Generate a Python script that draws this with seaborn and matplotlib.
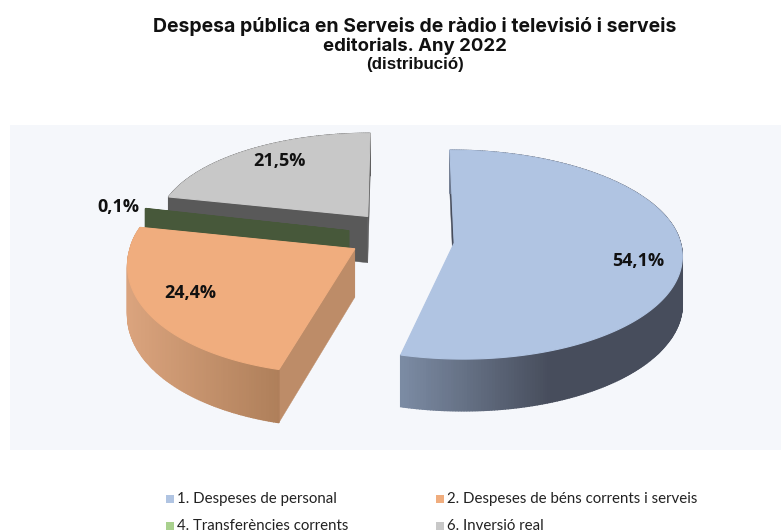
import numpy as np
import matplotlib
matplotlib.use("Agg")
import matplotlib.pyplot as plt
from matplotlib.patches import Polygon, Rectangle
import seaborn as sns

# DATA
categories = ["1. Despeses de personal", "2. Despeses de béns corrents i serveis",
              "4. Transferències corrents", "6. Inversió real"]
values = [54.1, 24.4, 0.1, 21.5]
value_labels = ["54,1%", "24,4%", "0,1%", "21,5%"]
title_lines = ["Despesa pública en Serveis de ràdio i televisió i serveis",
               "editorials. Any 2022"]
subtitle = "(distribució)"

# COLOURS
top_colors = ["#B0C4E2", "#F0AD7E", "#A9D18E", "#C8C8C8"]
wall_left = ["#7C8CA4", "#DBA47E", "#47583A", "#595959"]
wall_right = ["#474D5C", "#AD7E59", "#47583A", "#595959"]
cut_colors = ["#474D5C", "#BD8C68", "#47583A", "#595959"]

# GEOMETRY (pixels, the axes run in image coordinates)
CX, CY = 400, 235
RX, RY = 228, 105
PERSP = 0.09
DEPTH = 47
EXPLODE = 0.23
nudge = [(2, 5), (0, 1), (0, 1), (0, 0)]
scale_x = [0.99, 0.975, 0.94, 0.93]
scale_y = [1.0, 1.06, 1.0, 0.89]
back_y = [0.96, 0.9, 1.0, 1.0]    # extra squeeze for the part behind the apex
shear = [0.035, 0.08, 0.0, 0.0]   # only applied to the part in front of the apex
depth_scale = [1.0, 1.02, 1.0, 1.0]
label_pos = [(638, 261), (190, 293), (118, 207), (279, 161)]


def project(px, py, off):
    w = 1 + PERSP * py
    return CX + off[0] + RX * px / w, CY + off[1] - RY * py / w, DEPTH / w


def main():
    sns.set_theme(style="white")
    plt.rcParams["font.family"] = ["Liberation Sans", "DejaVu Sans"]

    fig = plt.figure(figsize=(7.81, 5.32), dpi=100)
    ax = fig.add_axes([0, 0, 1, 1])
    ax.set_xlim(0, 781)
    ax.set_ylim(532, 0)
    ax.axis("off")

    ax.add_patch(Rectangle((10, 125), 771, 325, facecolor="#F5F7FB", edgecolor="none", zorder=0))

    total = sum(values)
    angles = np.cumsum([0] + values) / total * 2 * np.pi
    # back slices first so the front ones cover them
    for idx in [3, 2, 0, 1]:
        a0, a1 = angles[idx], angles[idx + 1]
        mid = (a0 + a1) / 2
        ax0, ay0 = EXPLODE * np.sin(mid), EXPLODE * np.cos(mid)
        theta = np.linspace(a0, a1, max(int((a1 - a0) * 90), 2))
        apex = project(ax0, ay0, nudge[idx])
        arc = []
        for t in theta:
            p = project(ax0 + np.sin(t), ay0 + np.cos(t), nudge[idx])
            dx = (p[0] - apex[0]) * scale_x[idx]
            dy = (p[1] - apex[1]) * scale_y[idx]
            if dy < 0:
                dy *= back_y[idx]
            arc.append((apex[0] + dx + shear[idx] * max(dy, 0) * (1 if idx == 0 else -1),
                        apex[1] + dy, p[2] * depth_scale[idx]))
        apex_h = apex[2] * depth_scale[idx]

        # radial cut faces
        for tip in (arc[0], arc[-1]):
            if idx == 0 and tip is arc[-1]:
                continue
            ax.add_patch(Polygon([(apex[0], apex[1]), (tip[0], tip[1]),
                                  (tip[0], tip[1] + tip[2]), (apex[0], apex[1] + apex_h)],
                                 facecolor=cut_colors[idx], edgecolor=cut_colors[idx], lw=0.3, zorder=2))

        # outer wall in narrow strips, colour runs along screen x
        shades = sns.blend_palette([wall_left[idx], wall_right[idx]], 120)
        if idx == 0:
            lo, hi = 400, 550
        else:
            lo, hi = 125, 285
        for p, q in zip(arc[:-1], arc[1:]):
            frac = np.clip((p[0] - lo) / (hi - lo), 0, 1)
            col = shades[int(frac * 119)]
            ax.add_patch(Polygon([(p[0], p[1]), (q[0], q[1]), (q[0], q[1] + q[2]), (p[0], p[1] + p[2])],
                                 facecolor=col, edgecolor=col, lw=1.0, zorder=2))

        # top face (the 0,1% sliver shows no top at this size)
        pts = [(apex[0], apex[1])] + [(p[0], p[1]) for p in arc]
        ax.add_patch(Polygon(pts, facecolor=top_colors[idx] if idx != 2 else cut_colors[idx],
                             edgecolor=top_colors[idx] if idx != 2 else cut_colors[idx], lw=0.8, zorder=2))

    for (x, y), txt in zip(label_pos, value_labels):
        ax.text(x, y, txt, ha="center", va="center", fontsize=13, fontweight="bold",
                family=["Open Sans", "DejaVu Sans"], color="#111111", zorder=5)

    title_font = ["Inter", "Liberation Sans"]
    ax.text(415, 26, title_lines[0], ha="center", va="center", fontsize=14, fontweight="bold",
            family=title_font, color="#111111")
    ax.text(415, 46, title_lines[1], ha="center", va="center", fontsize=13.4, fontweight="bold",
            family=title_font, color="#111111")
    ax.text(415, 65, subtitle, ha="center", va="center", fontsize=12.2, fontweight="bold", color="#111111")

    # legend, written out so the two columns land where they should
    legend_pos = [(167, 499), (437, 499), (167, 526), (437, 526)]
    for (x, y), name, col in zip(legend_pos, categories, top_colors):
        ax.add_patch(Rectangle((x - 1, y - 4), 8, 8, facecolor=col, edgecolor="none"))
        ax.text(x + 10, y, name, ha="left", va="center", fontsize=10.8,
                family=["Lato", "DejaVu Sans"], color="#222222")

    fig.savefig("out.png", dpi=100)
    plt.close(fig)


if __name__ == "__main__":
    main()
